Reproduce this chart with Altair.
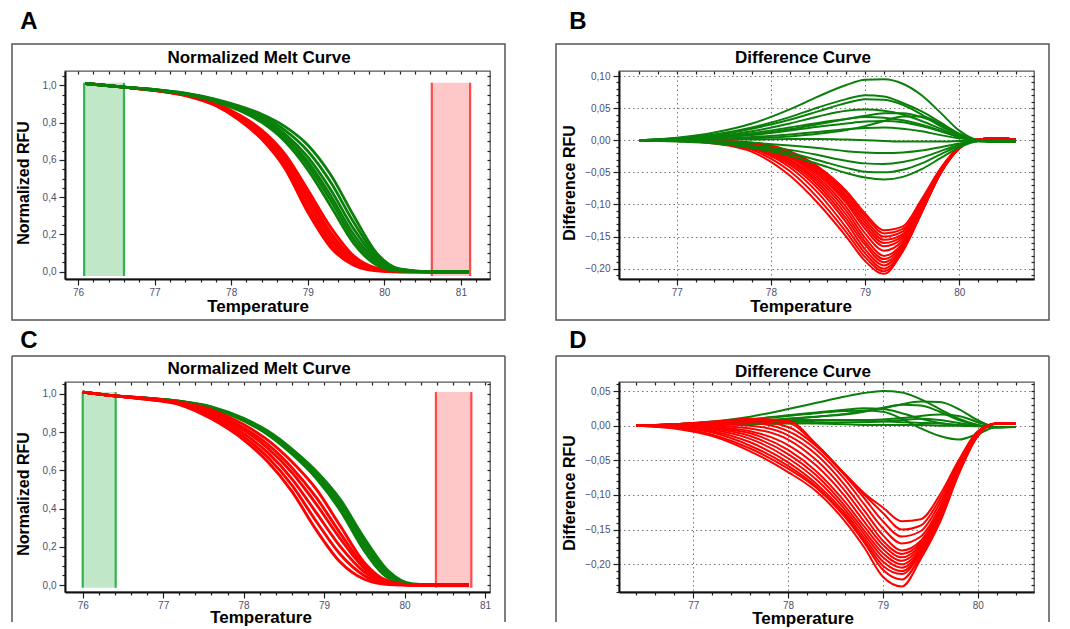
import altair as alt
import pandas as pd

RED = "#ff0000"
GREEN = "#0a800a"
FONT = "Liberation Sans"

# ---------------- Panel A : normalized melt curve ----------------
temp_A = [76.1, 76.6, 77.0, 77.4, 77.8, 78.1, 78.4, 78.7, 79.0, 79.3, 79.6, 79.9, 80.2, 80.6, 81.1]
red_A = [
    [1.01, 0.99, 0.972, 0.945, 0.890, 0.815, 0.710, 0.555, 0.320, 0.130, 0.035, 0.005, 0.000, 0.0, 0.0],
    [1.01, 0.99, 0.973, 0.947, 0.893, 0.822, 0.722, 0.572, 0.345, 0.148, 0.045, 0.008, 0.000, 0.0, 0.0],
    [1.01, 0.99, 0.973, 0.948, 0.896, 0.828, 0.733, 0.590, 0.372, 0.168, 0.055, 0.010, 0.000, 0.0, 0.0],
    [1.01, 0.99, 0.974, 0.949, 0.899, 0.834, 0.744, 0.607, 0.398, 0.190, 0.064, 0.013, 0.001, 0.0, 0.0],
    [1.01, 0.99, 0.974, 0.950, 0.901, 0.838, 0.750, 0.617, 0.416, 0.210, 0.072, 0.015, 0.001, 0.0, 0.0],
    [1.01, 0.99, 0.975, 0.952, 0.904, 0.843, 0.760, 0.632, 0.440, 0.238, 0.085, 0.019, 0.002, 0.0, 0.0],
]
green_A = [
    [1.01, 0.99, 0.975, 0.953, 0.913, 0.866, 0.801, 0.700, 0.548, 0.352, 0.152, 0.036, 0.003, 0.0, 0.0],
    [1.01, 0.99, 0.975, 0.954, 0.915, 0.870, 0.808, 0.713, 0.572, 0.382, 0.175, 0.048, 0.005, 0.0, 0.0],
    [1.01, 0.99, 0.976, 0.954, 0.917, 0.874, 0.815, 0.725, 0.592, 0.408, 0.200, 0.060, 0.008, 0.0, 0.0],
    [1.01, 0.99, 0.976, 0.955, 0.919, 0.878, 0.823, 0.740, 0.616, 0.440, 0.230, 0.072, 0.010, 0.0, 0.0],
    [1.01, 0.99, 0.977, 0.957, 0.922, 0.884, 0.834, 0.760, 0.648, 0.480, 0.265, 0.086, 0.013, 0.0, 0.0],
    [1.01, 0.99, 0.977, 0.958, 0.925, 0.890, 0.845, 0.780, 0.680, 0.520, 0.300, 0.100, 0.015, 0.0, 0.0],
]
win_green_A = [76.08, 76.60]
win_red_A = [80.62, 81.12]
win_y_A = [-0.023, 1.014]

# ---------------- Panel B : difference curve ----------------
temp_B = [76.6, 77.0, 77.4, 77.8, 78.2, 78.5, 78.8, 79.0, 79.2, 79.4, 79.6, 79.8, 80.0, 80.2, 80.4, 80.6]
green_B = [
    [0, 0.004, 0.012, 0.026, 0.048, 0.068, 0.086, 0.094, 0.095, 0.088, 0.070, 0.043, 0.015, 0.0, -0.002, -0.002],
    [0, 0.003, 0.009, 0.020, 0.036, 0.051, 0.064, 0.070, 0.068, 0.058, 0.045, 0.028, 0.010, 0.0, -0.002, -0.002],
    [0, 0.003, 0.008, 0.018, 0.032, 0.045, 0.058, 0.064, 0.063, 0.055, 0.040, 0.022, 0.008, 0.0, -0.002, -0.002],
    [0, 0.002, 0.006, 0.014, 0.026, 0.037, 0.046, 0.048, 0.046, 0.040, 0.030, 0.018, 0.006, 0.0, -0.002, -0.002],
    [0, 0.001, 0.004, 0.009, 0.017, 0.025, 0.033, 0.038, 0.042, 0.042, 0.036, 0.024, 0.009, 0.0, -0.002, -0.002],
    [0, 0.002, 0.005, 0.011, 0.020, 0.027, 0.033, 0.036, 0.035, 0.031, 0.024, 0.015, 0.005, 0.0, -0.002, -0.002],
    [0, 0.001, 0.004, 0.008, 0.015, 0.021, 0.026, 0.029, 0.030, 0.028, 0.022, 0.014, 0.005, 0.0, -0.002, -0.002],
    [0, 0.000, 0.001, 0.003, 0.006, 0.010, 0.016, 0.022, 0.030, 0.037, 0.037, 0.026, 0.010, 0.0, -0.002, -0.002],
    [0, 0.001, 0.002, 0.005, 0.009, 0.013, 0.017, 0.019, 0.020, 0.018, 0.014, 0.008, 0.003, 0.0, -0.002, -0.002],
    [0, 0.000, 0.001, 0.001, 0.002, 0.002, 0.001, 0.000, -0.001, -0.002, -0.002, -0.002, -0.001, 0.0, -0.002, -0.002],
    [0, -0.001, -0.002, -0.004, -0.008, -0.012, -0.017, -0.019, -0.020, -0.019, -0.016, -0.011, -0.005, -0.001, -0.002, -0.002],
    [0, -0.001, -0.003, -0.008, -0.015, -0.023, -0.032, -0.036, -0.037, -0.034, -0.027, -0.017, -0.007, -0.001, -0.002, -0.002],
    [0, -0.001, -0.004, -0.010, -0.020, -0.031, -0.043, -0.049, -0.050, -0.046, -0.036, -0.022, -0.009, -0.001, -0.002, -0.002],
    [0, -0.002, -0.005, -0.012, -0.024, -0.037, -0.051, -0.058, -0.061, -0.057, -0.045, -0.028, -0.011, -0.002, -0.002, -0.002],
]
red_B = [
    [0, -0.001, -0.005, -0.018, -0.055, -0.098, -0.150, -0.188, -0.208, -0.172, -0.112, -0.052, -0.013, 0.001, 0.003, 0.001],
    [0, -0.001, -0.004, -0.015, -0.048, -0.090, -0.143, -0.182, -0.204, -0.173, -0.113, -0.052, -0.013, 0.001, 0.003, 0.001],
    [0, -0.001, -0.004, -0.013, -0.042, -0.082, -0.136, -0.176, -0.200, -0.171, -0.112, -0.051, -0.013, 0.001, 0.003, 0.001],
    [0, -0.001, -0.003, -0.012, -0.038, -0.075, -0.128, -0.170, -0.195, -0.168, -0.111, -0.051, -0.012, 0.001, 0.003, 0.001],
    [0, -0.001, -0.003, -0.011, -0.035, -0.070, -0.122, -0.163, -0.190, -0.166, -0.110, -0.050, -0.012, 0.001, 0.003, 0.001],
    [0, -0.001, -0.003, -0.010, -0.032, -0.066, -0.116, -0.158, -0.185, -0.163, -0.108, -0.050, -0.012, 0.001, 0.003, 0.001],
    [0, -0.001, -0.003, -0.009, -0.030, -0.062, -0.110, -0.152, -0.180, -0.160, -0.107, -0.049, -0.012, 0.001, 0.003, 0.001],
    [0, 0.000, -0.002, -0.008, -0.027, -0.058, -0.104, -0.145, -0.172, -0.156, -0.105, -0.049, -0.012, 0.001, 0.003, 0.001],
    [0, 0.000, -0.002, -0.007, -0.025, -0.054, -0.098, -0.138, -0.165, -0.152, -0.103, -0.048, -0.011, 0.001, 0.003, 0.001],
    [0, 0.000, -0.002, -0.006, -0.023, -0.051, -0.094, -0.133, -0.160, -0.149, -0.101, -0.047, -0.011, 0.001, 0.003, 0.001],
    [0, 0.000, -0.002, -0.006, -0.021, -0.048, -0.090, -0.128, -0.155, -0.146, -0.100, -0.047, -0.011, 0.001, 0.003, 0.001],
    [0, 0.000, -0.001, -0.005, -0.019, -0.045, -0.086, -0.123, -0.150, -0.142, -0.098, -0.046, -0.011, 0.001, 0.003, 0.001],
    [0, 0.000, -0.001, -0.004, -0.018, -0.043, -0.082, -0.118, -0.145, -0.138, -0.095, -0.045, -0.011, 0.001, 0.003, 0.001],
    [0, 0.000, -0.001, -0.004, -0.017, -0.041, -0.079, -0.114, -0.140, -0.134, -0.092, -0.044, -0.010, 0.001, 0.003, 0.001],
]

# ---------------- Panel C : normalized melt curve ----------------
temp_C = [76.0, 76.4, 76.8, 77.2, 77.6, 78.0, 78.3, 78.6, 78.9, 79.2, 79.5, 79.8, 80.1, 80.4, 80.8]
green_C = [
    [1.01, 0.99, 0.977, 0.961, 0.927, 0.860, 0.788, 0.686, 0.560, 0.392, 0.180, 0.036, 0.001, 0.0, 0.0],
    [1.01, 0.99, 0.978, 0.961, 0.929, 0.864, 0.794, 0.695, 0.573, 0.412, 0.203, 0.050, 0.002, 0.0, 0.0],
    [1.01, 0.99, 0.978, 0.962, 0.931, 0.868, 0.800, 0.703, 0.585, 0.430, 0.224, 0.062, 0.004, 0.0, 0.0],
    [1.01, 0.99, 0.978, 0.962, 0.933, 0.872, 0.806, 0.712, 0.597, 0.448, 0.245, 0.073, 0.005, 0.0, 0.0],
]
red_C = [
    [1.01, 0.99, 0.972, 0.945, 0.870, 0.760, 0.645, 0.490, 0.290, 0.120, 0.030, 0.003, 0.0, 0.0, 0.0],
    [1.01, 0.99, 0.973, 0.948, 0.880, 0.777, 0.669, 0.523, 0.335, 0.161, 0.049, 0.007, 0.0, 0.0, 0.0],
    [1.01, 0.99, 0.974, 0.950, 0.890, 0.794, 0.693, 0.556, 0.380, 0.202, 0.068, 0.011, 0.0, 0.0, 0.0],
    [1.01, 0.99, 0.975, 0.953, 0.900, 0.811, 0.717, 0.589, 0.425, 0.243, 0.087, 0.014, 0.0, 0.0, 0.0],
    [1.01, 0.99, 0.976, 0.955, 0.908, 0.824, 0.736, 0.614, 0.460, 0.272, 0.100, 0.017, 0.0, 0.0, 0.0],
    [1.01, 0.99, 0.977, 0.957, 0.917, 0.840, 0.758, 0.645, 0.503, 0.310, 0.117, 0.020, 0.0, 0.0, 0.0],
]
win_green_C = [76.00, 76.41]
win_red_C = [80.39, 80.83]
win_y_C = [-0.014, 1.01]

# ---------------- Panel D : difference curve ----------------
temp_D = [76.4, 76.8, 77.2, 77.6, 78.0, 78.3, 78.6, 78.8, 79.0, 79.2, 79.4, 79.6, 79.8, 80.0, 80.2, 80.4]
green_D = [
    [0, 0.002, 0.006, 0.013, 0.024, 0.033, 0.042, 0.047, 0.050, 0.048, 0.038, 0.024, 0.010, 0.001, -0.003, -0.002],
    [0, 0.001, 0.003, 0.006, 0.010, 0.013, 0.016, 0.020, 0.025, 0.031, 0.035, 0.034, 0.024, 0.008, -0.002, -0.002],
    [0, 0.002, 0.005, 0.009, 0.015, 0.019, 0.023, 0.025, 0.024, 0.018, 0.010, 0.004, 0.001, 0.000, -0.002, -0.002],
    [0, 0.002, 0.005, 0.009, 0.014, 0.018, 0.021, 0.022, 0.020, 0.010, -0.004, -0.015, -0.020, -0.012, -0.002, -0.002],
    [0, 0.001, 0.002, 0.004, 0.006, 0.007, 0.008, 0.008, 0.009, 0.011, 0.014, 0.016, 0.014, 0.005, -0.002, -0.002],
    [0, 0.001, 0.003, 0.005, 0.008, 0.008, 0.008, 0.007, 0.006, 0.005, 0.004, 0.003, 0.001, 0.000, -0.002, -0.002],
    [0, 0.001, 0.002, 0.003, 0.004, 0.003, 0.002, 0.001, 0.001, 0.001, 0.001, 0.000, 0.000, -0.001, -0.002, -0.002],
    [0, 0.001, 0.003, 0.006, 0.010, 0.013, 0.017, 0.021, 0.026, 0.030, 0.029, 0.020, 0.008, 0.001, -0.002, -0.002],
    [0, 0.000, 0.001, 0.002, 0.003, 0.004, 0.005, 0.005, 0.006, 0.008, 0.010, 0.008, 0.004, 0.000, -0.002, -0.002],
]
red_D = [
    [0, -0.004, -0.015, -0.037, -0.067, -0.095, -0.138, -0.175, -0.218, -0.232, -0.192, -0.140, -0.070, -0.015, 0.003, 0.003],
    [0, -0.003, -0.013, -0.033, -0.062, -0.090, -0.132, -0.168, -0.208, -0.222, -0.188, -0.138, -0.068, -0.015, 0.003, 0.003],
    [0, -0.002, -0.010, -0.029, -0.058, -0.088, -0.130, -0.165, -0.202, -0.214, -0.184, -0.135, -0.066, -0.014, 0.003, 0.003],
    [0, -0.002, -0.008, -0.024, -0.053, -0.084, -0.126, -0.161, -0.196, -0.210, -0.182, -0.133, -0.065, -0.014, 0.003, 0.003],
    [0, -0.001, -0.006, -0.019, -0.047, -0.078, -0.121, -0.156, -0.190, -0.205, -0.180, -0.131, -0.064, -0.013, 0.003, 0.003],
    [0, -0.001, -0.004, -0.015, -0.041, -0.072, -0.116, -0.151, -0.184, -0.200, -0.178, -0.130, -0.063, -0.013, 0.003, 0.003],
    [0, 0.000, -0.003, -0.011, -0.035, -0.066, -0.110, -0.145, -0.178, -0.195, -0.175, -0.128, -0.062, -0.012, 0.003, 0.003],
    [0, 0.000, -0.002, -0.008, -0.028, -0.058, -0.102, -0.138, -0.172, -0.190, -0.172, -0.126, -0.061, -0.012, 0.003, 0.003],
    [0, 0.001, 0.000, -0.004, -0.020, -0.050, -0.094, -0.130, -0.166, -0.185, -0.169, -0.124, -0.060, -0.012, 0.003, 0.003],
    [0, 0.001, 0.002, 0.000, -0.014, -0.042, -0.086, -0.122, -0.158, -0.180, -0.166, -0.122, -0.059, -0.011, 0.003, 0.003],
    [0, 0.001, 0.003, 0.004, -0.008, -0.035, -0.078, -0.113, -0.148, -0.170, -0.160, -0.118, -0.057, -0.011, 0.003, 0.003],
    [0, 0.002, 0.004, 0.007, -0.002, -0.030, -0.072, -0.104, -0.138, -0.160, -0.152, -0.112, -0.055, -0.010, 0.003, 0.003],
    [0, 0.002, 0.005, 0.009, 0.004, -0.028, -0.070, -0.099, -0.126, -0.150, -0.144, -0.106, -0.052, -0.009, 0.003, 0.003],
    [0, 0.002, 0.006, 0.010, 0.007, -0.027, -0.070, -0.097, -0.118, -0.138, -0.135, -0.100, -0.050, -0.008, 0.003, 0.003],
]

# axis ticks (major labelled ticks + minor tick step)
xticks_A = [round(76.0 + 0.2 * i, 1) for i in range(27)]
xticks_B = [round(76.6 + 0.2 * i, 1) for i in range(21)]
xticks_C = [round(76.0 + 0.2 * i, 1) for i in range(26)]
xticks_D = [round(76.4 + 0.2 * i, 1) for i in range(21)]
yticks_melt = [round(0.05 * i, 2) for i in range(22)]
yticks_B = [round(-0.21 + 0.01 * i, 2) for i in range(32)]
yticks_D = [round(-0.24 + 0.01 * i, 2) for i in range(31)]


def long_df(temps, curves, prefix):
    rows = []
    for i, c in enumerate(curves):
        for t, v in zip(temps, c):
            rows.append({"T": t, "v": v, "curve": f"{prefix}{i}"})
    return pd.DataFrame(rows)


X_MAJOR = "abs(datum.value - round(datum.value)) < 0.01"


def x_axis(ticks):
    return alt.Axis(
        values=ticks, title=None, labelOverlap=False, labelFlush=False,
        labelExpr=f"{X_MAJOR} ? format(datum.value, '.0f') : ''",
        tickSize={"condition": {"test": X_MAJOR, "value": 6}, "value": 3},
        gridOpacity={"condition": {"test": X_MAJOR, "value": 1}, "value": 0},
        labelPadding=2,
    )


def y_axis(ticks, mult, fmt):
    test = f"abs(datum.value * {mult} - round(datum.value * {mult})) < 0.01"
    return alt.Axis(
        values=ticks, title=None, labelOverlap=False, labelFlush=False,
        labelExpr=f"{test} ? replace(format(datum.value, '{fmt}'), '.', ',') : ''",
        tickSize={"condition": {"test": test, "value": 6}, "value": 3},
        gridOpacity={"condition": {"test": test, "value": 1}, "value": 0},
        labelPadding=3,
    )


def text_layer(s, x, y, size, angle=0):
    return alt.Chart(pd.DataFrame({"s": [s]})).mark_text(
        font=FONT, fontSize=size, fontWeight="bold", angle=angle,
        align="center", baseline="middle", color="black", clip=False,
    ).encode(text="s:N", x=alt.value(x), y=alt.value(y))


ONE = pd.DataFrame({"k": [0]})


def frame_layers(left, right, top, bottom, closed):
    if closed:
        return [alt.Chart(ONE).mark_rect(filled=False, stroke="#555555", strokeWidth=1.5, clip=False).encode(
            x=alt.value(left), x2=alt.value(right), y=alt.value(top), y2=alt.value(bottom))]
    rules = []
    for (a, b, c, d) in [(left, right, top, top), (left, left, top, bottom), (right, right, top, bottom)]:
        rules.append(alt.Chart(ONE).mark_rule(stroke="#555555", strokeWidth=1.5, clip=False).encode(
            x=alt.value(a), x2=alt.value(b), y=alt.value(c), y2=alt.value(d)))
    return rules


def panel(letter, title, ytitle, curves_first, curves_second, xdom, ydom, xticks, yticks, ymult, yfmt,
          w, h, pos, lw, windows=None, anchor=False, closed=True):
    xs = alt.Scale(domain=xdom, nice=False, zero=False)
    ys = alt.Scale(domain=ydom, nice=False, zero=False)
    layers = []
    if anchor:
        layers.append(alt.Chart(ONE).mark_rect(opacity=0, clip=False).encode(
            x=alt.value(-56), x2=alt.value(-55), y=alt.value(-62), y2=alt.value(-61)))
    layers += frame_layers(*pos["frame"], closed)
    layers.append(text_layer(letter, *pos["letter"], 24))
    layers.append(text_layer(title, *pos["title"], 17))
    layers.append(text_layer("Temperature", *pos["xtitle"], 17))
    layers.append(text_layer(ytitle, *pos["ytitle"], 16, angle=270))
    if windows is not None:
        gwin, rwin, ywin = windows
        wdf = pd.DataFrame({"x1": [gwin[0], rwin[0]], "x2": [gwin[1], rwin[1]],
                            "y1": [ywin[0]] * 2, "y2": [ywin[1]] * 2, "c": ["g", "r"]})
        layers.append(alt.Chart(wdf).mark_rect(opacity=0.3).encode(
            x=alt.X("x1:Q", scale=xs, axis=None), x2="x2:Q",
            y=alt.Y("y1:Q", scale=ys, axis=None), y2="y2:Q",
            color=alt.Color("c:N", scale=alt.Scale(domain=["g", "r"], range=["#2fb34a", "#ff4a4a"]), legend=None)))
        edf = pd.DataFrame({"T": [gwin[0], gwin[1], rwin[0], rwin[1]], "y1": [ywin[0]] * 4,
                            "y2": [ywin[1]] * 4, "c": ["g", "g", "r", "r"]})
        layers.append(alt.Chart(edf).mark_rule(strokeWidth=2.2).encode(
            x=alt.X("T:Q", scale=xs, axis=None),
            y=alt.Y("y1:Q", scale=ys, axis=None), y2="y2:Q",
            color=alt.Color("c:N", scale=alt.Scale(domain=["g", "r"], range=["#118a1c", "#ff1010"]), legend=None)))
    first = True
    for df, col in (curves_first, curves_second):
        layers.append(alt.Chart(df).mark_line(color=col, strokeWidth=lw, interpolate="monotone", clip=True).encode(
            x=alt.X("T:Q", scale=xs, axis=x_axis(xticks) if first else None),
            y=alt.Y("v:Q", scale=ys, axis=y_axis(yticks, ymult, yfmt) if first else None),
            detail="curve:N"))
        first = False
    # mirrored inner ticks on top and right edges
    layers.append(alt.Chart(curves_first[0]).mark_point(opacity=0).encode(
        x=alt.X("T:Q", scale=xs, axis=alt.Axis(orient="top", values=xticks, labels=False, domain=False,
                                                grid=False, tickSize=3, offset=-3, title=None)),
        y=alt.Y("v:Q", scale=ys, axis=alt.Axis(orient="right", values=yticks, labels=False, domain=False,
                                                grid=False, tickSize=3, offset=-3, title=None))))
    return alt.layer(*layers).resolve_axis(x="independent", y="independent").properties(width=w, height=h)


dfA_r = long_df(temp_A, red_A, "r")
dfA_g = long_df(temp_A, green_A, "g")
dfB_r = long_df(temp_B, red_B, "r")
dfB_g = long_df(temp_B, green_B, "g")
dfC_r = long_df(temp_C, red_C, "r")
dfC_g = long_df(temp_C, green_C, "g")
dfD_r = long_df(temp_D, red_D, "r")
dfD_g = long_df(temp_D, green_D, "g")

A = panel("A", "Normalized Melt Curve", "Normalized RFU", (dfA_r, RED), (dfA_g, GREEN),
          [75.83, 81.38], [-0.039, 1.077], xticks_A, yticks_melt, 5, ".1f", 425, 208,
          {"frame": (-53, 440, -27, 249), "letter": (-36, -49), "title": (194, -13),
           "xtitle": (193, 236), "ytitle": (-41, 112)}, 2.8,
          windows=(win_green_A, win_red_A, win_y_A), anchor=True)
B = panel("B", "Difference Curve", "Difference RFU", (dfB_r, RED), (dfB_g, GREEN),
          [76.3875, 80.793], [-0.216, 0.1078], xticks_B, yticks_B, 20, ".2f", 415, 208,
          {"frame": (-63, 430, -27, 249), "letter": (-41, -49), "title": (184, -13),
           "xtitle": (182, 236), "ytitle": (-49, 112)}, 2,
          )
C = panel("C", "Normalized Melt Curve", "Normalized RFU", (dfC_g, GREEN), (dfC_r, RED),
          [75.78, 81.062], [-0.0366, 1.0628], xticks_C, yticks_melt, 5, ".1f", 425, 210,
          {"frame": (-53, 440, -26, 240), "letter": (-36, -41), "title": (194, -13),
           "xtitle": (196, 236), "ytitle": (-41, 112)}, 2.9,
          windows=(win_green_C, win_red_C, win_y_C), closed=False)
D = panel("D", "Difference Curve", "Difference RFU", (dfD_g, GREEN), (dfD_r, RED),
          [76.216, 80.594], [-0.240, 0.063], xticks_D, yticks_D, 20, ".2f", 415, 210,
          {"frame": (-63, 430, -26, 240), "letter": (-41, -41), "title": (184, -10),
           "xtitle": (184, 237), "ytitle": (-49, 111)}, 2, closed=False)

chart = alt.concat(A, B, C, D, columns=2, spacing={"row": 103, "column": 129}, bounds="flush").properties(
    padding=0
).configure(font=FONT).configure_view(stroke="#555555", strokeWidth=1.3).configure_axis(
    labelFont=FONT, labelFontSize=10, labelColor="#4f4f6c",
    domainColor="#111111", domainWidth=2, tickColor="#222222", tickWidth=1.2,
    gridColor="#777777", gridDash=[1.5, 3], gridWidth=1,
)

chart.save("out.html", embed_options={"renderer": "svg", "actions": False})
